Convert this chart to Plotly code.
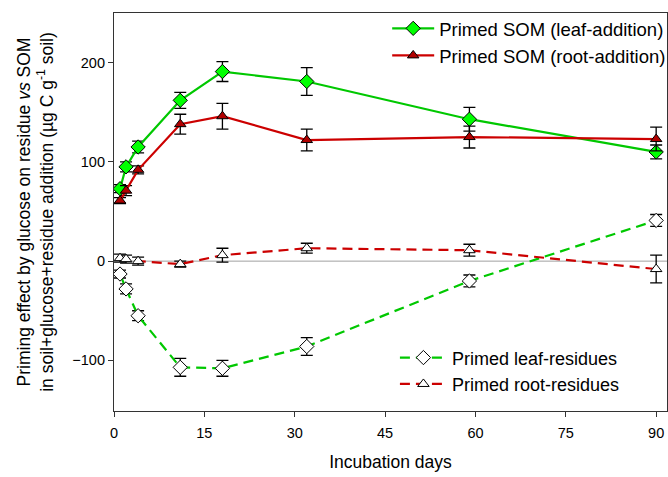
import plotly.graph_objects as go

days = [1, 2, 4, 11, 18, 32, 59, 90]

som_leaf = [73, 95, 115, 162, 191, 181, 143, 110]
som_leaf_err = [4, 5, 6, 8, 10, 14, 12, 7]
som_root = [61, 71, 92, 138, 146, 122, 125, 123]
som_root_err = [3, 5, 4, 10, 13, 11, 11, 12]
res_leaf = [-13, -28, -55, -107, -108, -86, -20, 41]
res_leaf_err = [4, 5, 5, 9, 8, 9, 6, 6]
res_root = [3, 2, 0, -3, 6, 13, 11, -8]
res_root_err = [4, 4, 4, 3, 7, 5, 6, 14]

x_ticks = [0, 15, 30, 45, 60, 75, 90]
y_ticks = [-100, 0, 100, 200]

fig = go.Figure()

def err(e):
    return dict(type="data", array=e, visible=True, color="black",
                thickness=1.3, width=6)

fig.add_trace(go.Scatter(
    x=days, y=res_leaf, error_y=err(res_leaf_err), mode="lines+markers",
    name="Primed leaf-residues", legend="legend2", legendgroup="a",
    line=dict(color="#00c800", width=2.2, dash="10px,6px"),
    marker=dict(symbol="diamond", size=11, color="white",
                line=dict(color="black", width=1))))
fig.add_trace(go.Scatter(
    x=days, y=res_root, error_y=err(res_root_err), mode="lines+markers",
    name="Primed root-residues", legend="legend2", legendgroup="b",
    line=dict(color="#cc0000", width=2.2, dash="10px,6px"),
    marker=dict(symbol="triangle-up", size=10, color="white",
                line=dict(color="black", width=1))))
fig.add_trace(go.Scatter(
    x=days, y=som_leaf, error_y=err(som_leaf_err), mode="lines+markers",
    name="Primed SOM (leaf-addition)", legend="legend", legendgroup="c",
    line=dict(color="#00c800", width=2.2),
    marker=dict(symbol="diamond", size=11, color="#00ff00",
                line=dict(color="black", width=1))))
fig.add_trace(go.Scatter(
    x=days, y=som_root, error_y=err(som_root_err), mode="lines+markers",
    name="Primed SOM (root-addition)", legend="legend", legendgroup="d",
    line=dict(color="#cc0000", width=2.2),
    marker=dict(symbol="triangle-up", size=10, color="#b00000",
                line=dict(color="black", width=1))))

font = dict(family="Liberation Sans, Arial, sans-serif", color="black")

fig.update_layout(
    width=668, height=477,
    margin=dict(l=114, r=1, t=13, b=66, autoexpand=False),
    paper_bgcolor="white", plot_bgcolor="white",
    font=dict(size=14.5, **font),
    shapes=[dict(type="line", xref="paper", x0=0, x1=1, yref="y", y0=0, y1=0,
                 line=dict(color="#a0a0a0", width=1), layer="below")],
    legend=dict(x=0.494, y=1.008, xanchor="left", yanchor="top",
                traceorder="normal", font=dict(size=18.5, **font),
                bgcolor="rgba(0,0,0,0)", itemwidth=42, tracegroupgap=11),
    legend2=dict(x=0.508, y=0.18, xanchor="left", yanchor="top",
                 traceorder="normal", font=dict(size=18, **font),
                 bgcolor="rgba(0,0,0,0)", itemwidth=47, tracegroupgap=6),
    xaxis=dict(range=[0, 91.8], tickvals=x_ticks, ticks="outside", ticklen=5,
               tickcolor="#333", showline=True, linecolor="#333", linewidth=1.2,
               mirror=True, showgrid=False, zeroline=False, ticklabelstandoff=3,
               title=dict(text="Incubation days", font=dict(size=17.5, **font),
                          standoff=16)),
    yaxis=dict(range=[-151, 250], tickvals=y_ticks, ticks="outside", ticklen=5,
               tickcolor="#333", showline=True, linecolor="#333", linewidth=1.2,
               mirror=True, showgrid=False, zeroline=False,
               title=dict(text="Priming effect by glucose on residue <i>vs</i> SOM<br>"
                               "in soil+glucose+residue addition (µg C g<sup>-1</sup> soil)",
                          font=dict(size=17.5, **font), standoff=14)),
)

fig.write_html("out.html", config={"displayModeBar": False},
               post_script="document.body.style.margin='0';")
